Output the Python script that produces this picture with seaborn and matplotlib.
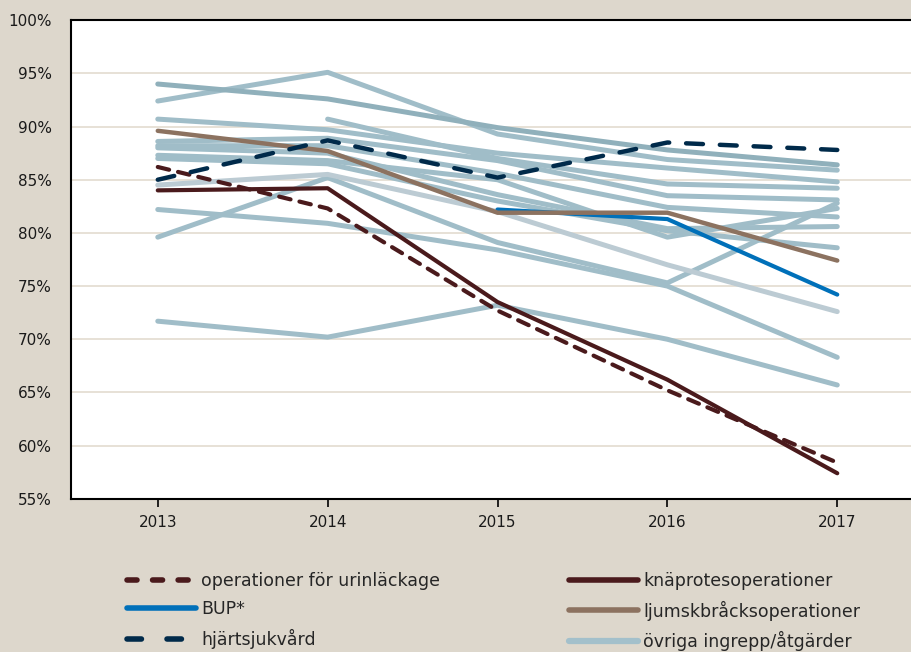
import numpy as np
import pandas as pd
import matplotlib
matplotlib.use('Agg')
import matplotlib.pyplot as plt
import seaborn as sns
from matplotlib.lines import Line2D
from matplotlib.ticker import PercentFormatter

nan = np.nan
years = [2013, 2014, 2015, 2016, 2017]

# highlighted series (%)
urinlackage = [86.2, 82.3, 72.7, 65.2, 58.4]
knaprotes = [84.0, 84.2, 73.5, 66.2, 57.4]
bup = [nan, nan, 82.2, 81.3, 74.2]
ljumskbrack = [89.6, 87.7, 81.9, 81.9, 77.4]
hjartsjukvard = [85.0, 88.7, 85.2, 88.5, 87.8]

# other procedures (grey lines)
ovriga_dark = [94.0, 92.6, 89.9, 87.8, 86.4]
ovriga_light = [84.5, 85.5, 82.0, 77.0, 72.6]
ovriga = [
    [92.4, 95.1, 89.3, 86.9, 85.9],
    [90.7, 89.7, 87.5, 86.1, 84.8],
    [nan, 90.7, 87.0, 84.6, 84.2],
    [88.6, 88.9, 86.8, 83.5, 83.1],
    [88.2, 88.2, 85.6, 82.4, 81.5],
    [87.3, 86.8, 85.0, 79.6, 82.3],
    [88.0, 87.5, 83.6, 80.4, 80.6],
    [87.0, 86.5, 83.0, 80.2, 78.6],
    [79.6, 85.2, 79.1, 75.3, 82.8],
    [82.2, 80.9, 78.4, 75.0, 68.3],
    [71.7, 70.2, 73.2, 70.0, 65.7],
]

labels = ['operationer för urinläckage', 'BUP*', 'hjärtsjukvård',
          'knäprotesoperationer', 'ljumskbråcksoperationer', 'övriga ingrepp/åtgärder']

bg = '#ddd7cc'
maroon = '#4a1a1c'
navy = '#002a4a'
blue = '#0070b9'
brown = '#8c7260'
grey = '#a0bdc8'

sns.set_style('white')
plt.rcParams['font.family'] = ['DejaVu Sans']

fig = plt.figure(figsize=(9.12, 6.52), dpi=100, facecolor=bg)
ax = fig.add_axes([0.078, 0.235, 0.922, 0.734])
ax.set_facecolor('white')

def draw(vals, color, lw, dashes=None, z=2):
    df = pd.DataFrame({'year': years, 'v': vals}).dropna()
    sns.lineplot(data=df, x='year', y='v', ax=ax, color=color, linewidth=lw,
                 estimator=None, zorder=z, solid_capstyle='round',
                 dash_capstyle='round')
    if dashes:
        ax.lines[-1].set_dashes(dashes)

for vals in ovriga:
    draw(vals, grey, 3.6)
draw(ovriga_dark, '#90b0bb', 3.6)
draw(ovriga_light, '#bccbd3', 3.6)
draw(bup, blue, 3.0, z=3)
draw(ljumskbrack, brown, 3.2, z=3)
draw(knaprotes, maroon, 3.0, z=4)
draw(urinlackage, maroon, 3.0, dashes=(2.8, 2.2), z=4)
draw(hjartsjukvard, navy, 3.2, dashes=(3.8, 3.8), z=4)

ax.set_xlim(2012.49, 2017.44)
ax.set_ylim(55, 100)
ax.set_yticks(np.arange(55, 101, 5))
ax.yaxis.set_major_formatter(PercentFormatter(decimals=0))
ax.set_xticks(years)
ax.set_xlabel('')
ax.set_ylabel('')
ax.grid(axis='y', color='#e3dccf', linewidth=1.2)
ax.grid(axis='x', visible=False)
ax.set_axisbelow(True)
for s in ['left', 'bottom', 'top']:
    ax.spines[s].set_color('black')
    ax.spines[s].set_linewidth(1.5)
ax.spines['right'].set_visible(False)
ax.tick_params(axis='x', direction='out', length=6, width=1.2, color='black',
               labelsize=11, pad=6, bottom=True)
ax.tick_params(axis='y', length=0, labelsize=11, pad=14, left=False)
for t in ax.get_yticklabels() + ax.get_xticklabels():
    t.set_color('#1a1a1a')

handles = [
    Line2D([], [], color=maroon, lw=4, dashes=(1.8, 2.8), dash_capstyle='round'),
    Line2D([], [], color=blue, lw=4, solid_capstyle='round'),
    Line2D([], [], color=navy, lw=4, dashes=(2.6, 4.6), dash_capstyle='round'),
    Line2D([], [], color=maroon, lw=4, solid_capstyle='round'),
    Line2D([], [], color=brown, lw=4, solid_capstyle='round'),
    Line2D([], [], color='#a3c0cb', lw=4.5),
]
fig.legend(handles, labels, ncol=2, loc='center', bbox_to_anchor=(0.541, 0.062),
           frameon=False, fontsize=12.5, handlelength=4.0, handletextpad=0.3,
           columnspacing=7.4, labelspacing=0.6)

fig.savefig('out.png', dpi=100, facecolor=bg)
